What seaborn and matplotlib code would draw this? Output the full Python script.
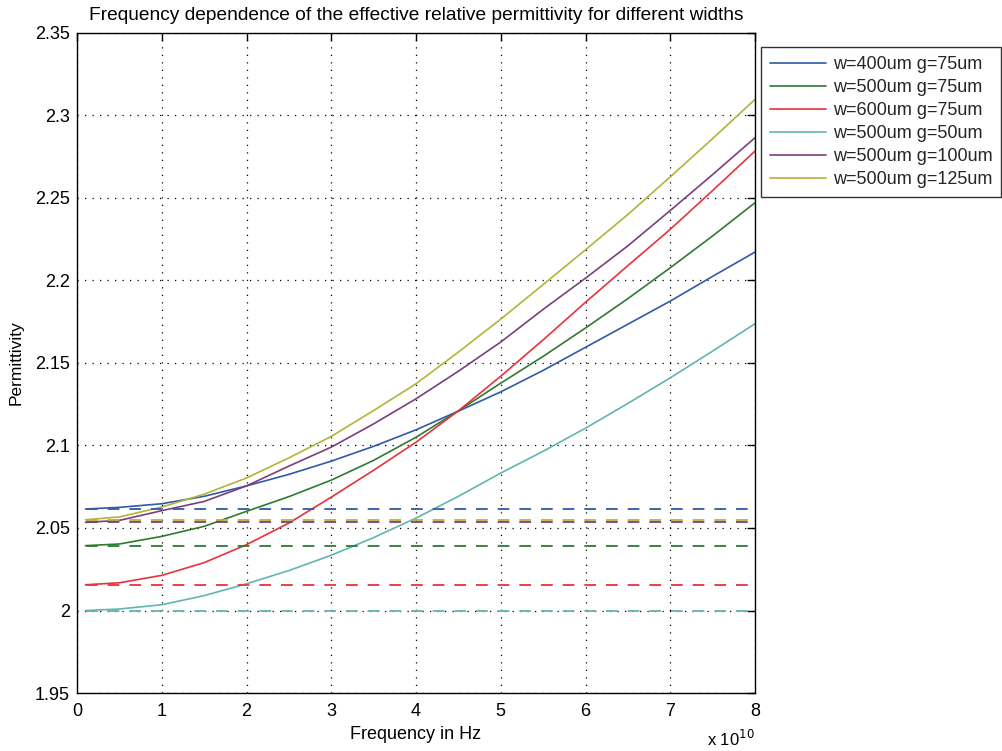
import numpy as np
import pandas as pd
import matplotlib
matplotlib.use("Agg")
import matplotlib.pyplot as plt
import seaborn as sns
from matplotlib.ticker import FuncFormatter, MultipleLocator

# ---- data (frequency in units of 1e10 Hz) ----
freq = [0.1, 0.5, 1, 1.5, 2, 2.5, 3, 3.5, 4, 4.5, 5, 5.5, 6, 6.5, 7, 7.5, 8]
labels = ["w=400um g=75um", "w=500um g=75um", "w=600um g=75um",
          "w=500um g=50um", "w=500um g=100um", "w=500um g=125um"]
eps_w400_g75 = [2.0615, 2.0625, 2.0647, 2.0692, 2.0755, 2.0825, 2.0905, 2.0995, 2.1095,
                2.1208, 2.1325, 2.1455, 2.1595, 2.1735, 2.1875, 2.2025, 2.2172]
eps_w500_g75 = [2.0393, 2.0403, 2.0449, 2.0510, 2.0601, 2.0690, 2.0790, 2.0910, 2.1050,
                2.1210, 2.1378, 2.1540, 2.1712, 2.1890, 2.2077, 2.2270, 2.2471]
eps_w600_g75 = [2.0156, 2.0168, 2.0213, 2.0290, 2.0399, 2.0530, 2.0687, 2.0850, 2.1020,
                2.1210, 2.1420, 2.1640, 2.1868, 2.2090, 2.2310, 2.2545, 2.2784]
eps_w500_g50 = [2.0000, 2.0009, 2.0035, 2.0090, 2.0162, 2.0242, 2.0335, 2.0442, 2.0560,
                2.0692, 2.0833, 2.0965, 2.1105, 2.1255, 2.1410, 2.1572, 2.1738]
eps_w500_g100 = [2.0534, 2.0546, 2.0605, 2.0661, 2.0755, 2.0875, 2.0990, 2.1131, 2.1283,
                 2.1450, 2.1627, 2.1825, 2.2014, 2.2210, 2.2424, 2.2642, 2.2865]
eps_w500_g125 = [2.0550, 2.0567, 2.0627, 2.0705, 2.0803, 2.0925, 2.1055, 2.1212, 2.1374,
                 2.1566, 2.1766, 2.1975, 2.2186, 2.2400, 2.2628, 2.2860, 2.3097]
static_eps = [2.0615, 2.0393, 2.0156, 2.000, 2.0534, 2.055]  # dashed (quasi-static) levels

series = [eps_w400_g75, eps_w500_g75, eps_w600_g75, eps_w500_g50, eps_w500_g100, eps_w500_g125]
colors = ["#2f5aa8", "#2e7a30", "#e8323c", "#5fb5b0", "#7a3f7c", "#b3b33a"]

df = pd.DataFrame({
    "freq": np.tile(freq, len(labels)),
    "eps": np.concatenate(series),
    "case": np.repeat(labels, len(freq)),
})

sns.set_theme(style="white")
plt.rcParams["font.family"] = ["Liberation Sans", "DejaVu Sans"]

fig = plt.figure(figsize=(10.03, 7.51), dpi=100)
ax = fig.add_axes([0.0768, 0.0772, 0.676, 0.879])

sns.lineplot(data=df, x="freq", y="eps", hue="case", hue_order=labels,
             palette=colors, linewidth=1.2, legend=False, ax=ax, sort=True)
solid = list(ax.lines[:len(labels)])

for lvl, c in zip(static_eps, colors):
    ax.hlines(lvl, freq[0], freq[-1], colors=c, linestyles=(0, (6.5, 5.5)), linewidth=1.3)

ax.set_xlim(0, 8)
ax.set_ylim(1.95, 2.35)
ax.xaxis.set_major_locator(MultipleLocator(1))
ax.yaxis.set_major_locator(MultipleLocator(0.05))
ax.yaxis.set_major_formatter(FuncFormatter(lambda v, p: f"{v:g}"))
ax.grid(True, linestyle=(0, (1, 5)), color="black", linewidth=0.9)
for s in ax.spines.values():
    s.set_visible(True)
    s.set_color("black")
    s.set_linewidth(1.0)
ax.tick_params(direction="in", length=6, width=1, top=True, right=True,
               labelsize=13, colors="black")
ax.tick_params(axis="x", pad=7.5)
ax.tick_params(axis="y", pad=5)

ax.set_xlabel("Frequency in Hz", fontsize=13, labelpad=4, color="black")
ax.set_ylabel("Permittivity", fontsize=12.5, labelpad=8, color="black")
ax.set_title("Frequency dependence of the effective relative permittivity for different widths",
             fontsize=13.8, pad=9, color="black")
ax.text(1.0, -0.080, r"x 10$^{10}$", transform=ax.transAxes, ha="right", va="baseline",
        fontsize=12, color="black")

leg = fig.legend(solid, labels, loc="upper left", bbox_to_anchor=(0.759, 0.937),
                 fontsize=13, frameon=True, fancybox=False, edgecolor="black",
                 handlelength=3.1, handletextpad=0.35, borderpad=0.5, labelspacing=0.33,
                 borderaxespad=0)
leg.get_frame().set_linewidth(1.0)

fig.savefig("out.png", dpi=100)
